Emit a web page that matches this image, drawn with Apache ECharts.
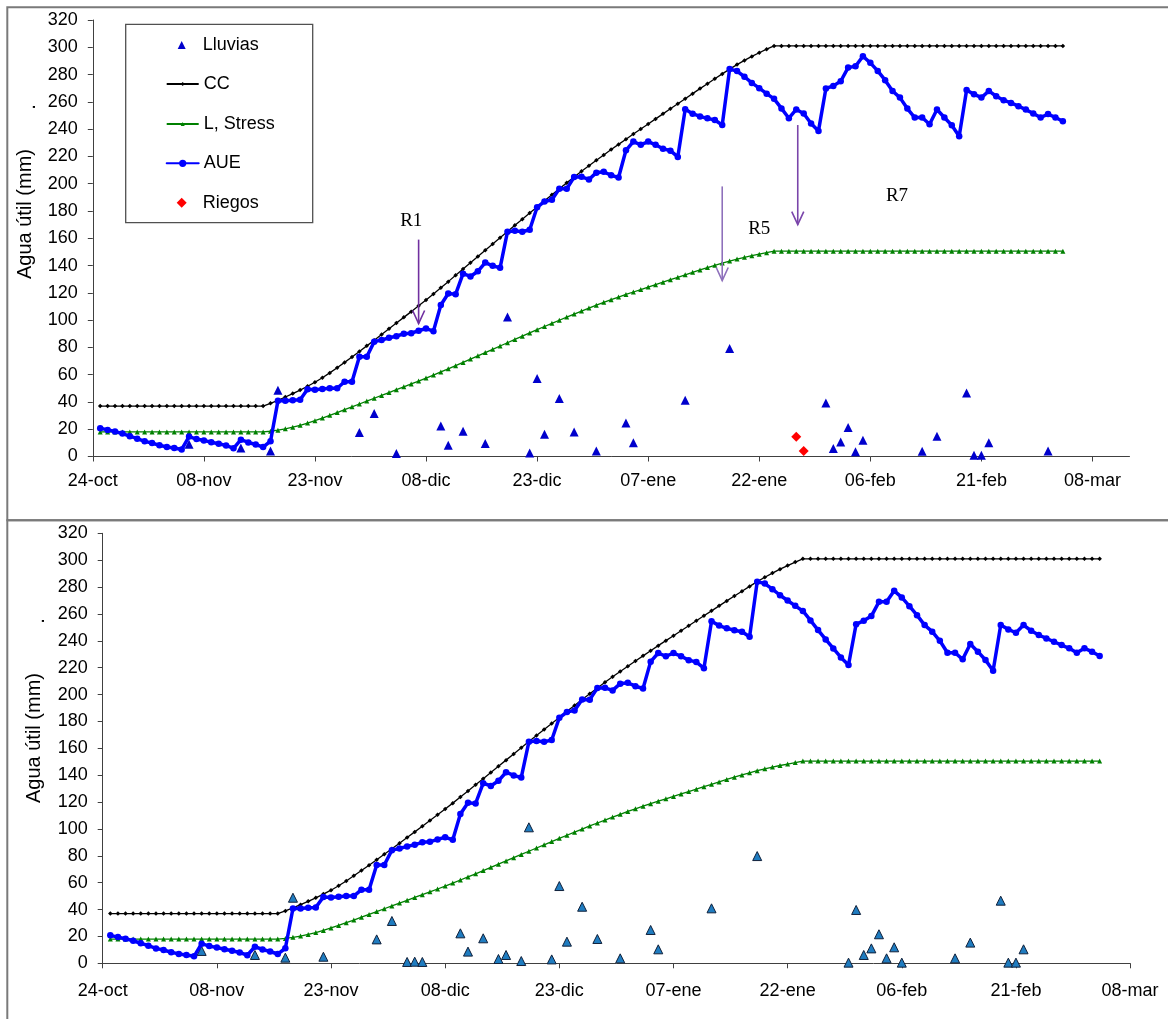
<!DOCTYPE html>
<html>
<head>
<meta charset="utf-8">
<script src="https://cdn.jsdelivr.net/npm/echarts@6/dist/echarts.min.js"></script>
<style>
  html, body { margin: 0; padding: 0; background: #ffffff; }
  #chart { width: 1168px; height: 1019px; }
</style>
</head>
<body>
<div id="chart"></div>
<script>
// Soil water balance, two scenarios (daily values from 25-oct to 04-mar)

const tickLabels = ['24-oct', '08-nov', '23-nov', '08-dic', '23-dic', '07-ene', '22-ene', '06-feb', '21-feb', '08-mar'];
const tickStep = 15;          // days between date labels
const firstDay = 1;           // day index of the first daily value (0 = 24-oct)

// CC: field capacity of the explored root zone (mm)
const cc = [
  37, 37, 37, 37, 37, 37, 37, 37, 37, 37, 37, 37, 37, 37, 37, 37, 37, 37, 37, 37, 37, 37, 37,
  39.0, 41.2, 43.6, 46.1, 48.7, 51.5, 54.4, 57.7, 61.3, 65.1, 69.0, 73.0, 77.0, 81.1, 85.2,
  89.4, 93.6, 97.8, 102.0, 106.2, 110.5, 114.8, 119.2, 123.7, 128.2, 132.8, 137.4, 142.0,
  146.6, 151.2, 155.8, 160.4, 165.0, 169.5, 174.0, 178.5, 183.0, 187.5, 191.9, 196.3, 200.6,
  204.9, 209.1, 213.2, 217.2, 221.1, 225.0, 228.8, 232.6, 236.4, 240.1, 243.8, 247.5, 251.2,
  254.9, 258.6, 262.3, 266.0, 269.7, 273.3, 276.9, 280.5, 284.0, 287.3, 290.4, 293.3, 296.0,
  298.6, 301.0,
  301, 301, 301, 301, 301, 301, 301, 301, 301, 301, 301, 301, 301, 301, 301, 301, 301, 301, 301, 301,
  301, 301, 301, 301, 301, 301, 301, 301, 301, 301, 301, 301, 301, 301, 301, 301, 301, 301, 301
];

// L, Stress: stress threshold (mm)
const stress = [
  18, 18, 18, 18, 18, 18, 18, 18, 18, 18, 18, 18, 18, 18, 18, 18, 18, 18, 18, 18, 18, 18, 18,
  18.5, 19.3, 20.3, 21.5, 22.9, 24.5, 26.3, 28.2, 30.2, 32.2, 34.3, 36.4, 38.5, 40.6, 42.7,
  44.8, 46.9, 49.0, 51.1, 53.2, 55.3, 57.5, 59.7, 62.0, 64.3, 66.6, 69.0, 71.4, 73.8, 76.2,
  78.6, 81.0, 83.4, 85.8, 88.2, 90.6, 93.0, 95.3, 97.6, 99.9, 102.2, 104.4, 106.6, 108.8,
  110.9, 113.0, 115.0, 116.9, 118.8, 120.6, 122.4, 124.2, 126.0, 127.8, 129.6, 131.4, 133.2,
  135.0, 136.8, 138.5, 140.2, 141.8, 143.3, 144.7, 146.0, 147.2, 148.3, 149.4, 150.5,
  150.5, 150.5, 150.5, 150.5, 150.5, 150.5, 150.5, 150.5, 150.5, 150.5, 150.5, 150.5, 150.5,
  150.5, 150.5, 150.5, 150.5, 150.5, 150.5, 150.5, 150.5, 150.5, 150.5, 150.5, 150.5, 150.5,
  150.5, 150.5, 150.5, 150.5, 150.5, 150.5, 150.5, 150.5, 150.5, 150.5, 150.5, 150.5, 150.5
];

// AUE: available soil water, shared until 27-ene
const aueCommon = [
  20.8, 19.5, 18.3, 16.8, 14.9, 13.1, 11.1, 9.9, 8.2, 7.0,
  6.2, 5.2, 14.6, 12.8, 11.8, 10.5, 9.3, 8.1, 6.0, 12.3,
  10.3, 8.8, 6.9, 11.2, 40.8, 40.8, 41.3, 41.6, 49.3, 49.0,
  49.5, 50.0, 50.0, 54.8, 54.8, 73.1, 73.1, 84.2, 85.4, 87.0,
  88.2, 90.0, 90.4, 92.2, 93.8, 91.9, 111.1, 119.5, 119.0, 134.0,
  132.0, 135.8, 142.2, 139.8, 138.3, 164.8, 165.5, 164.8, 166.2, 182.7,
  187.0, 188.2, 196.3, 196.2, 204.9, 205.0, 203.1, 208.1, 208.7, 206.2,
  204.5, 224.5, 230.9, 228.5, 230.9, 228.5, 225.6, 224.2, 219.6, 254.6,
  251.3, 249.3, 247.9, 246.7, 243.0, 284.0, 282.6, 278.4, 273.9, 270.0,
  266.0, 262.2, 255.2, 248.0
];
// AUE from 28-ene, with irrigation (upper panel)
const aueTopTail = [
  254.4, 251.5, 244.1, 238.7, 269.8, 271.7, 275.1, 285.1, 286.1, 293.4,
  288.6, 282.7, 275.9, 268.0, 263.1, 255.1, 248.5, 248.5, 243.6, 254.4,
  248.5, 242.9, 234.8, 268.6, 265.6, 263.1, 268.0, 264.1, 261.2, 259.2,
  256.8, 254.3, 251.5, 248.5, 251.0, 248.5, 245.8
];
// AUE from 28-ene, rain only (lower panel)
const aueBottomTail = [
  241.0, 234.3, 227.6, 222.0, 252.4, 254.9, 258.4, 269.0, 269.0, 277.2,
  272.3, 265.8, 259.1, 251.7, 246.8, 240.0, 231.1, 231.1, 226.2, 237.6,
  231.9, 225.7, 217.7, 251.7, 248.5, 246.0, 251.7, 247.5, 244.3, 241.8,
  239.3, 236.8, 234.4, 231.1, 234.4, 231.9, 228.7
];

// Lluvias (mm) by day index
const rainDaysTop = [13, 20, 24, 25, 36, 38, 41, 47, 48, 50, 53, 56, 59, 60, 61, 63, 65, 68, 72, 73,
  80, 86, 99, 100, 101, 102, 103, 104, 112, 114, 118, 119, 120, 121, 129];
const rainTop = [9.0, 6.3, 4.1, 48.6, 17.6, 31.5, 2.2, 22.4, 8.3, 18.5, 9.5, 102.3, 2.6, 57.1, 16.3, 42.5, 18.0, 4.1, 24.6, 10.0,
  41.3, 79.2, 39.3, 5.8, 10.7, 21.2, 3.4, 11.9, 3.8, 14.8, 46.6, 1.0, 1.0, 10.0, 4.1];
const rainDaysBottom = [13, 20, 24, 25, 29, 36, 38, 40, 41, 42, 47, 48, 50, 52, 53, 55, 56, 59, 60, 61,
  63, 65, 68, 72, 73, 80, 86, 98, 99, 100, 101, 102, 103, 104, 105, 112, 114, 118, 119, 120, 121];
const rainBottom = [9.2, 6.2, 4.2, 48.8, 4.9, 17.8, 31.5, 1.0, 1.2, 1.0, 22.3, 8.7, 18.6, 3.2, 6.2, 1.7, 101.2, 2.9, 57.5, 16.1,
  42.1, 18.1, 3.7, 24.8, 10.4, 40.9, 79.8, 0.5, 39.7, 6.2, 11.1, 21.6, 3.7, 11.9, 0.5, 3.7, 15.4, 46.6, 0.5, 0.5, 10.4];

// Riegos (mm)
const irrigationDays = [95, 96];
const irrigation = [14.4, 4.1];

// ---------------------------------------------------------------------------

const FONT = '"Liberation Sans", Arial, sans-serif';
const SERIF = '"Liberation Serif", "Times New Roman", serif';
const AXIS_COLOR = '#404040';

const daily = (vals) => vals.map((v, i) => [firstDay + i, v]);
const byDay = (days, vals) => days.map((d, i) => [d, vals[i]]);
const tickValues = tickLabels.map((_, i) => i * tickStep);

const aueTop = aueCommon.concat(aueTopTail);
const aueBottom = aueCommon.concat(aueBottomTail);

function xAxisFor(gridIndex, max, labelMargin) {
  return {
    type: 'value', gridIndex, min: 0, max, interval: tickStep,
    axisLine: { show: true, onZero: false, lineStyle: { color: AXIS_COLOR, width: 1 } },
    axisTick: { show: true, length: 5, customValues: tickValues, lineStyle: { color: AXIS_COLOR, width: 1 } },
    axisLabel: {
      customValues: tickValues,
      formatter: (v) => tickLabels[Math.round(v / tickStep)] ?? '',
      fontFamily: FONT, fontSize: 18, color: '#000', margin: labelMargin
    },
    splitLine: { show: false }
  };
}

function yAxisFor(gridIndex) {
  return {
    type: 'value', gridIndex, min: 0, max: 320, interval: 20,
    axisLine: { show: true, lineStyle: { color: AXIS_COLOR, width: 1 } },
    axisTick: { show: true, length: 5, lineStyle: { color: AXIS_COLOR, width: 1 } },
    axisLabel: { fontFamily: FONT, fontSize: 18, color: '#000', margin: 15 },
    splitLine: { show: false }
  };
}

function panelSeries(idx, rainPairs, rainStyle, auePairs) {
  return [
    {
      name: 'Lluvias', type: 'scatter', xAxisIndex: idx, yAxisIndex: idx,
      symbol: 'triangle', symbolSize: 9, itemStyle: rainStyle, data: rainPairs, z: 2
    },
    {
      name: 'CC', type: 'line', xAxisIndex: idx, yAxisIndex: idx,
      symbol: 'diamond', symbolSize: 4.5, showSymbol: true,
      lineStyle: { color: '#000000', width: 1.3 }, itemStyle: { color: '#000000' },
      data: daily(cc), z: 3
    },
    {
      name: 'L, Stress', type: 'line', xAxisIndex: idx, yAxisIndex: idx,
      symbol: 'triangle', symbolSize: 5, showSymbol: true,
      lineStyle: { color: '#008000', width: 1.3 }, itemStyle: { color: '#008000' },
      data: daily(stress), z: 3
    },
    {
      name: 'AUE', type: 'line', xAxisIndex: idx, yAxisIndex: idx,
      symbol: 'circle', symbolSize: 6.5, showSymbol: true,
      lineStyle: { color: '#0000ff', width: 3.5, join: 'round', cap: 'round' }, itemStyle: { color: '#0000ff' },
      data: auePairs, z: 4
    }
  ];
}

const series = [
  ...panelSeries(0, byDay(rainDaysTop, rainTop), { color: '#0000cc', opacity: 1 }, daily(aueTop)),
  {
    name: 'Riegos', type: 'scatter', xAxisIndex: 0, yAxisIndex: 0,
    symbol: 'diamond', symbolSize: 10, itemStyle: { color: '#ff0000', opacity: 1 },
    data: byDay(irrigationDays, irrigation), z: 5
  },
  ...panelSeries(1, byDay(rainDaysBottom, rainBottom),
    { color: '#1f7cc0', borderColor: '#10203a', borderWidth: 1, opacity: 1 }, daily(aueBottom))
];

// one legend block per entry so every icon keeps its own size;
// icons are centred on x = 181.7 and the texts start at x = 202.7
const ICON_CENTER = 181.7;
const TEXT_LEFT = 202.7;
function legendEntry(name, centerY, itemWidth, itemHeight) {
  const left = ICON_CENTER - itemWidth / 2;
  const pad = TEXT_LEFT - (left + itemWidth + 5);
  return {
    orient: 'vertical', padding: 0, left, top: centerY - 10,
    itemWidth, itemHeight, itemGap: 0, selectedMode: false,
    textStyle: { fontFamily: FONT, fontSize: 18, color: '#000', lineHeight: 20, padding: [0, 0, 0, pad] },
    data: [name]
  };
}

const chart = echarts.init(document.getElementById('chart'), null, { renderer: 'canvas' });

chart.setOption({
  animation: false,
  backgroundColor: '#ffffff',
  grid: [
    { left: 92.8, top: 20, width: 1036.7, height: 436.5, containLabel: false },
    { left: 102.7, top: 533.3, width: 1027.4, height: 430, containLabel: false }
  ],
  xAxis: [xAxisFor(0, 140, 16), xAxisFor(1, 135, 19)],
  yAxis: [yAxisFor(0), yAxisFor(1)],
  legend: [
    legendEntry('Lluvias', 45, 8, 8),
    legendEntry('CC', 84, 32, 5),
    legendEntry('L, Stress', 124, 32, 5),
    legendEntry('AUE', 163.3, 32, 9),
    legendEntry('Riegos', 202.7, 10, 10)
  ],
  series
});

// irrigation notes on the upper panel, placed in data units
const notes = [
  { text: 'R1', day: 43, value: 173 },
  { text: 'R5', day: 90, value: 166.5 },
  { text: 'R7', day: 108.6, value: 191 }
];
const arrows = [
  { day: 44, from: 159, to: 97.5, color: '#7030a0' },
  { day: 85, from: 198, to: 129, color: '#8e70bb' },
  { day: 95.2, from: 243, to: 170, color: '#7a45aa' }
];

const px = (day, value) => chart.convertToPixel({ gridIndex: 0 }, [day, value]);

const graphics = [
  // panel frames
  { type: 'rect', shape: { x: 7.3, y: 7.3, width: 1175, height: 513 }, style: { fill: 'rgba(0,0,0,0)', stroke: '#7a7a7a', lineWidth: 2 }, z: 0, silent: true },
  { type: 'rect', shape: { x: 7.3, y: 520.3, width: 1175, height: 520 }, style: { fill: 'rgba(0,0,0,0)', stroke: '#7a7a7a', lineWidth: 2 }, z: 0, silent: true },
  // legend box
  { type: 'rect', shape: { x: 125.7, y: 24.3, width: 187, height: 198.4 }, style: { fill: 'rgba(0,0,0,0)', stroke: '#505050', lineWidth: 1.3 }, z: 10, silent: true },
  // axis titles
  { type: 'text', x: 25, y: 214, rotation: Math.PI / 2, style: { text: 'Agua útil (mm)', font: '20px ' + FONT, fill: '#000', align: 'center', verticalAlign: 'middle' }, z: 10, silent: true },
  { type: 'text', x: 29, y: 107, rotation: Math.PI / 2, style: { text: '.', font: '20px ' + FONT, fill: '#000', align: 'center', verticalAlign: 'middle' }, z: 10, silent: true },
  { type: 'text', x: 34, y: 738, rotation: Math.PI / 2, style: { text: 'Agua útil (mm)', font: '20px ' + FONT, fill: '#000', align: 'center', verticalAlign: 'middle' }, z: 10, silent: true },
  { type: 'text', x: 38, y: 621, rotation: Math.PI / 2, style: { text: '.', font: '20px ' + FONT, fill: '#000', align: 'center', verticalAlign: 'middle' }, z: 10, silent: true }
];

notes.forEach((n) => {
  const [x, y] = px(n.day, n.value);
  graphics.push({
    type: 'text', x, y,
    style: { text: n.text, font: '19px ' + SERIF, fill: '#000', align: 'center', verticalAlign: 'middle' },
    z: 10, silent: true
  });
});

arrows.forEach((a) => {
  const [x0, y0] = px(a.day, a.from);
  const [x1, y1] = px(a.day, a.to);
  graphics.push({
    type: 'line', shape: { x1: x0, y1: y0, x2: x1, y2: y1 },
    style: { stroke: a.color, lineWidth: 1.6 }, z: 10, silent: true
  });
  graphics.push({
    type: 'polyline', shape: { points: [[x1 - 6, y1 - 13], [x1, y1], [x1 + 6, y1 - 13]] },
    style: { stroke: a.color, lineWidth: 1.6, fill: null }, z: 10, silent: true
  });
});

chart.setOption({ graphic: graphics });
</script>
</body>
</html>
